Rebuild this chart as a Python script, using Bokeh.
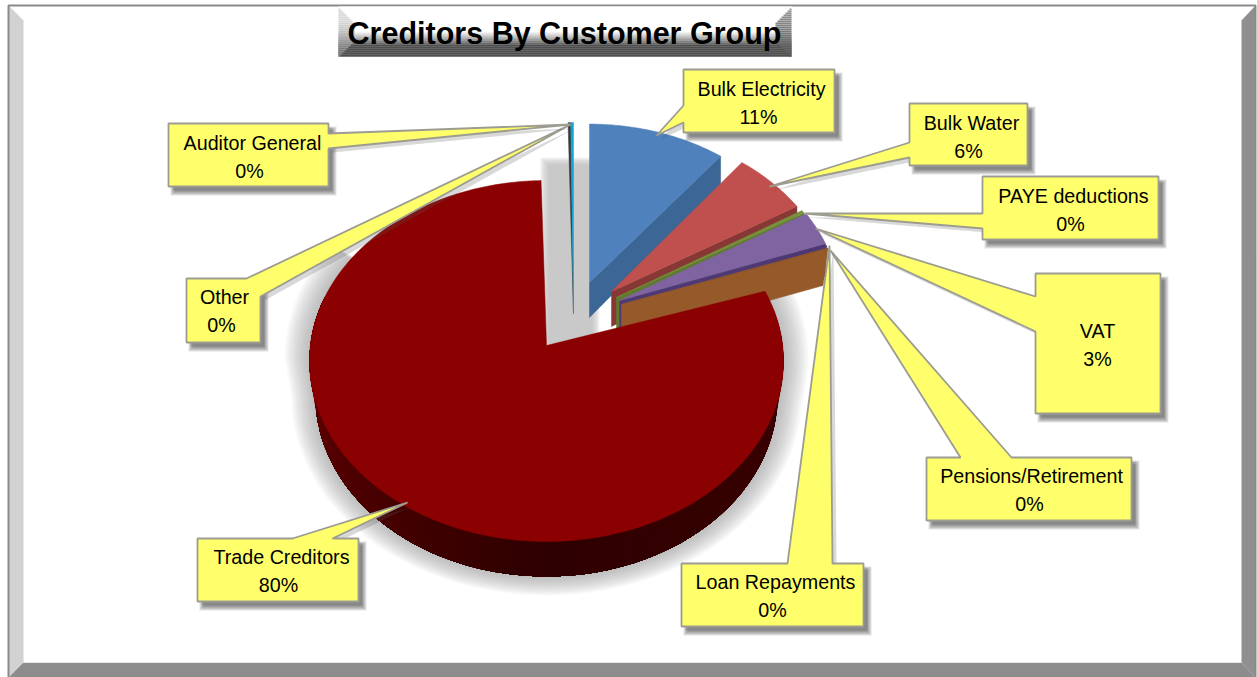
import numpy as np
from bokeh.plotting import figure
from bokeh.models import Range1d
from bokeh.embed import file_html
from bokeh.resources import INLINE
from bokeh.core.properties import value

# ---------- data ----------
title_text = "Creditors By Customer Group"
categories = ["Bulk Electricity", "Bulk Water", "PAYE deductions", "VAT",
              "Pensions/Retirement", "Loan Repayments", "Trade Creditors",
              "Other", "Auditor General"]
shares = [10.7, 5.9, 0.3, 3.0, 0.05, 0.05, 79.6, 0.2, 0.2]

# ---------- styles / layout ----------
FONT = value("Liberation Sans")
top_colors = ["#4F81BD", "#C0504D", "#76923C", "#8064A2", "#4F3A75", "#95592A", "#8B0000", "#3A3A3A", "#12A5DC"]
wall_colors = ["#3B6695", "#873835", "#5F7A2E", "#4F3A75", "#4F3A75", "#95592A", "#300000", "#555555", "#444444"]
# apex x, apex y, x scale, y scale of each exploded slice
slice_geom = [(589, 282, .955, .96), (611, 291, .95, .98), (616, 297, .95, 1.0), (619, 300, .945, 1.03),
              (620, 302, .945, 1.03), (621, 304, .945, 1.03), (546, 345, 1, 1), (573, 313, 1, 1.157), (573, 313, 1, 1.157)]
wall_depth = [(35, 29), (35, 30), (33, 33), (33, 33), (37, 37), (37, 37), (35, 35), (0, 0), (0, 0)]
RX, RY, CY_OFF = 237, 180.5, 15.5
# box x0, y0, x1, y1, tip, base a, base b, side, text centre x name, x pct, y name, y pct
callouts = [
    (683, 69, 834, 132, (656, 135), (683, 105), (683, 122), "left", 761, 758, 88, 116),
    (909, 103, 1027, 165, (769, 186), (909, 142), (909, 157), "left", 971, 968, 122, 150),
    (982, 176, 1158, 239, (804, 213), (982, 213), (982, 228), "left", 1073, 1070, 195, 223),
    (1035, 273, 1160, 413, (815, 228), (1035, 296), (1035, 331), "left", 1097, 1097, 330, 358),
    (926, 457, 1131, 520, (830, 250), (960, 457), (1011, 457), "top", 1031, 1029, 475, 503),
    (681, 563, 863, 626, (829, 245), (787, 563), (832, 563), "top", 775, 772, 581, 609),
    (197, 538, 358, 601, (407, 502), (292, 538), (332, 538), "top", 281, 278, 556, 584),
    (186, 278, 260, 342, (570, 124), (246, 278), (260, 296), "corner", 224, 221, 296, 324),
    (168, 123, 328, 186, (570, 124), (328, 133), (328, 148), "right", 252, 249, 142, 170),
]

p = figure(width=1257, height=677, output_backend="svg", toolbar_location=None,
           x_range=Range1d(0, 1257), y_range=Range1d(677, 0), min_border=0,
           background_fill_color="white", border_fill_color="white", outline_line_color=None)
p.styles = {"position": "absolute", "left": "0px", "top": "0px"}
p.xaxis.visible = False
p.yaxis.visible = False
p.grid.visible = False


def polys(lst, color, alpha=1.0, line=None, lw=1.0):
    xs = [[pt[0] for pt in q] for q in lst]
    ys = [[pt[1] for pt in q] for q in lst]
    p.patches(xs, ys, fill_color=color, fill_alpha=alpha, line_color=line, line_width=lw)


def rect(x0, y0, x1, y1):
    return [(x0, y0), (x1, y0), (x1, y1), (x0, y1)]


def mix(c0, c1, t):
    t = min(max(t, 0), 1)
    a = [int(c0[i:i + 2], 16) for i in (1, 3, 5)]
    b = [int(c1[i:i + 2], 16) for i in (1, 3, 5)]
    return "#%02x%02x%02x" % tuple(int(round(u + (v - u) * t)) for u, v in zip(a, b))


# ---------- frame ----------
polys([[(8, 5), (23, 20), (23, 662), (8, 677)]], "#D2D2D2")
polys([[(1255, 5), (1241, 20), (1241, 662), (1255, 677)]], "#8F8F8F")
polys([[(8, 677), (23, 662), (1241, 662), (1255, 677)]], "#8C8C8C")
p.line([8, 8, 1255, 1255], [677, 5, 5, 677], line_color="#8A8A8A", line_width=2)
p.line([23, 23, 1241], [20, 662, 662], line_color="#E8E8E8", line_width=1)

# ---------- pie geometry from the shares ----------
cum = np.concatenate([[0], np.cumsum(shares)]) / np.sum(shares) * 360.0


def rim_pts(i, a0, a1, n=None):
    ax, ay, sx, sy = slice_geom[i]
    n = n or max(2, int(abs(a1 - a0)) + 2)
    th = np.radians(np.linspace(a0, a1, n))
    ph = th - np.radians(5) * np.sin(th)
    return [(ax + sx * RX * np.sin(f), ay + sy * (CY_OFF - RY * np.cos(f))) for f in ph]


def drop(pt, depth=35, squeeze=.975):
    # lower edge of the main slice: slightly narrower because of the perspective
    return (546 + (pt[0] - 546) * squeeze, pt[1] + depth)


# soft shadows behind the pie
for k in range(8):
    polys([rect(548 - k * 1.2, 157 + 7 - k, 592 + k, 352)], "#B8B8B8", .16)

main_i = categories.index("Trade Creditors")
a0m, a1m = cum[main_i], cum[main_i + 1]
apex = (slice_geom[main_i][0], slice_geom[main_i][1])
outline = [apex] + rim_pts(main_i, a0m, a1m)
low = (rim_pts(main_i, 72, 100, 14)
       + [drop(q) for q in rim_pts(main_i, 100, 265, 84)]
       + rim_pts(main_i, 265, 300, 14) + [(546, 352)])
for k in range(14, 0, -1):
    f = 1 + k * 0.0075
    q = [(546 + (x - 546) * f, 395 + (y - 395) * f) if (x, y) != (546, 352) else (x, y) for x, y in low]
    polys([q], "#909090", .055)

# other slices: walls then tops, back to front
order = [0, 1, 2, 3, 4, 5, 7, 8]
for i in order:
    a0, a1 = cum[i], cum[i + 1]
    ax, ay, sx, sy = slice_geom[i]
    d0, d1 = wall_depth[i]
    pts = rim_pts(i, a0, a1)
    ex, ey = pts[-1]
    if d0:
        shift = -5 if i in (4, 5) else 0
        polys([[(ax, ay), (ex, ey), (ex + shift, ey + d1), (ax, ay + d0)]], wall_colors[i], line=wall_colors[i], lw=.5)
    polys([[(ax, ay)] + pts], top_colors[i], line=top_colors[i], lw=.5)

# main slice side wall with shading, painted as overlapping bands so no seams show
wall_th = np.linspace(78, 286, 70)
wall_pts = rim_pts(main_i, 78, 286, 70)
for j in range(len(wall_th) - 1):
    t = wall_th[j]
    c = mix("#3A0000", "#2E0000", (t - 95) / 85) if t < 180 else mix("#2E0000", "#660000", (t - 180) / 90)
    rest = wall_pts[j:]
    polys([rest + [drop(q) for q in rest[::-1]]], c)
polys([outline], top_colors[main_i], line=top_colors[main_i], lw=.5)

# ---------- callouts ----------
for (x0, y0, x1, y1, tip, a, b, side, *_rest) in callouts:
    if side == "left":
        pg = [(x0, y0), (x1, y0), (x1, y1), (x0, y1), b, tip, a]
    elif side == "right":
        pg = [(x0, y0), (x1, y0), a, tip, b, (x1, y1), (x0, y1)]
    elif side == "top":
        pg = [(x0, y0), a, tip, b, (x1, y0), (x1, y1), (x0, y1)]
    else:
        pg = [(x0, y0), a, tip, b, (x1, y1), (x0, y1)]
    for k in range(5):
        infl = 3 - k
        polys([rect(x0 + 5 - infl, y0 + 6 - infl, x1 + 5 + infl, y1 + 6 + infl)], "#404040", .14)
        polys([[(x + 4, y + 4) for x, y in pg]], "#606060", .05)
    polys([pg], "#FFFF6B", line="#9C9C90", lw=1.8)

names = categories
pct = ["%d%%" % round(v) for v in shares]
p.text([c[8] for c in callouts], [c[10] for c in callouts], text=names, text_font=FONT, text_font_size="19.7px",
       text_align="center", text_baseline="middle", text_color="#000000")
p.text([c[9] for c in callouts], [c[11] for c in callouts], text=pct, text_font=FONT, text_font_size="19.7px",
       text_align="center", text_baseline="middle", text_color="#000000")

# ---------- title plate ----------
bx0, bx1, by0, by1 = 338, 791, 6, 56
ys = np.arange(by0, by1, 2)
for y in ys:
    c = "#FFFFFF" if y < 30 else (mix("#FFFFFF", "#525252", (y - 30) / 14) if y < 44 else "#4F4F4F")
    polys([rect(bx0, y, bx1, y + 2.3)], c)
    m = (y - by0) if y < 31 else (by1 - y)
    m = min(m, 16)
    cl = mix("#D8D8D8", "#8A8A8A", (y - 20) / 30)
    polys([rect(bx0, y, bx0 + m, y + 2.3)], cl)
    polys([rect(bx1 - m, y, bx1, y + 2.3)], mix("#9A9A9A", "#5A5A5A", (y - 6) / 50))
p.text([564], [32], text=[title_text], text_font=FONT, text_font_size="30.5px", text_font_style="bold",
       text_align="center", text_baseline="middle", text_color="#000000")

open("out.html", "w").write(file_html(p, INLINE))
